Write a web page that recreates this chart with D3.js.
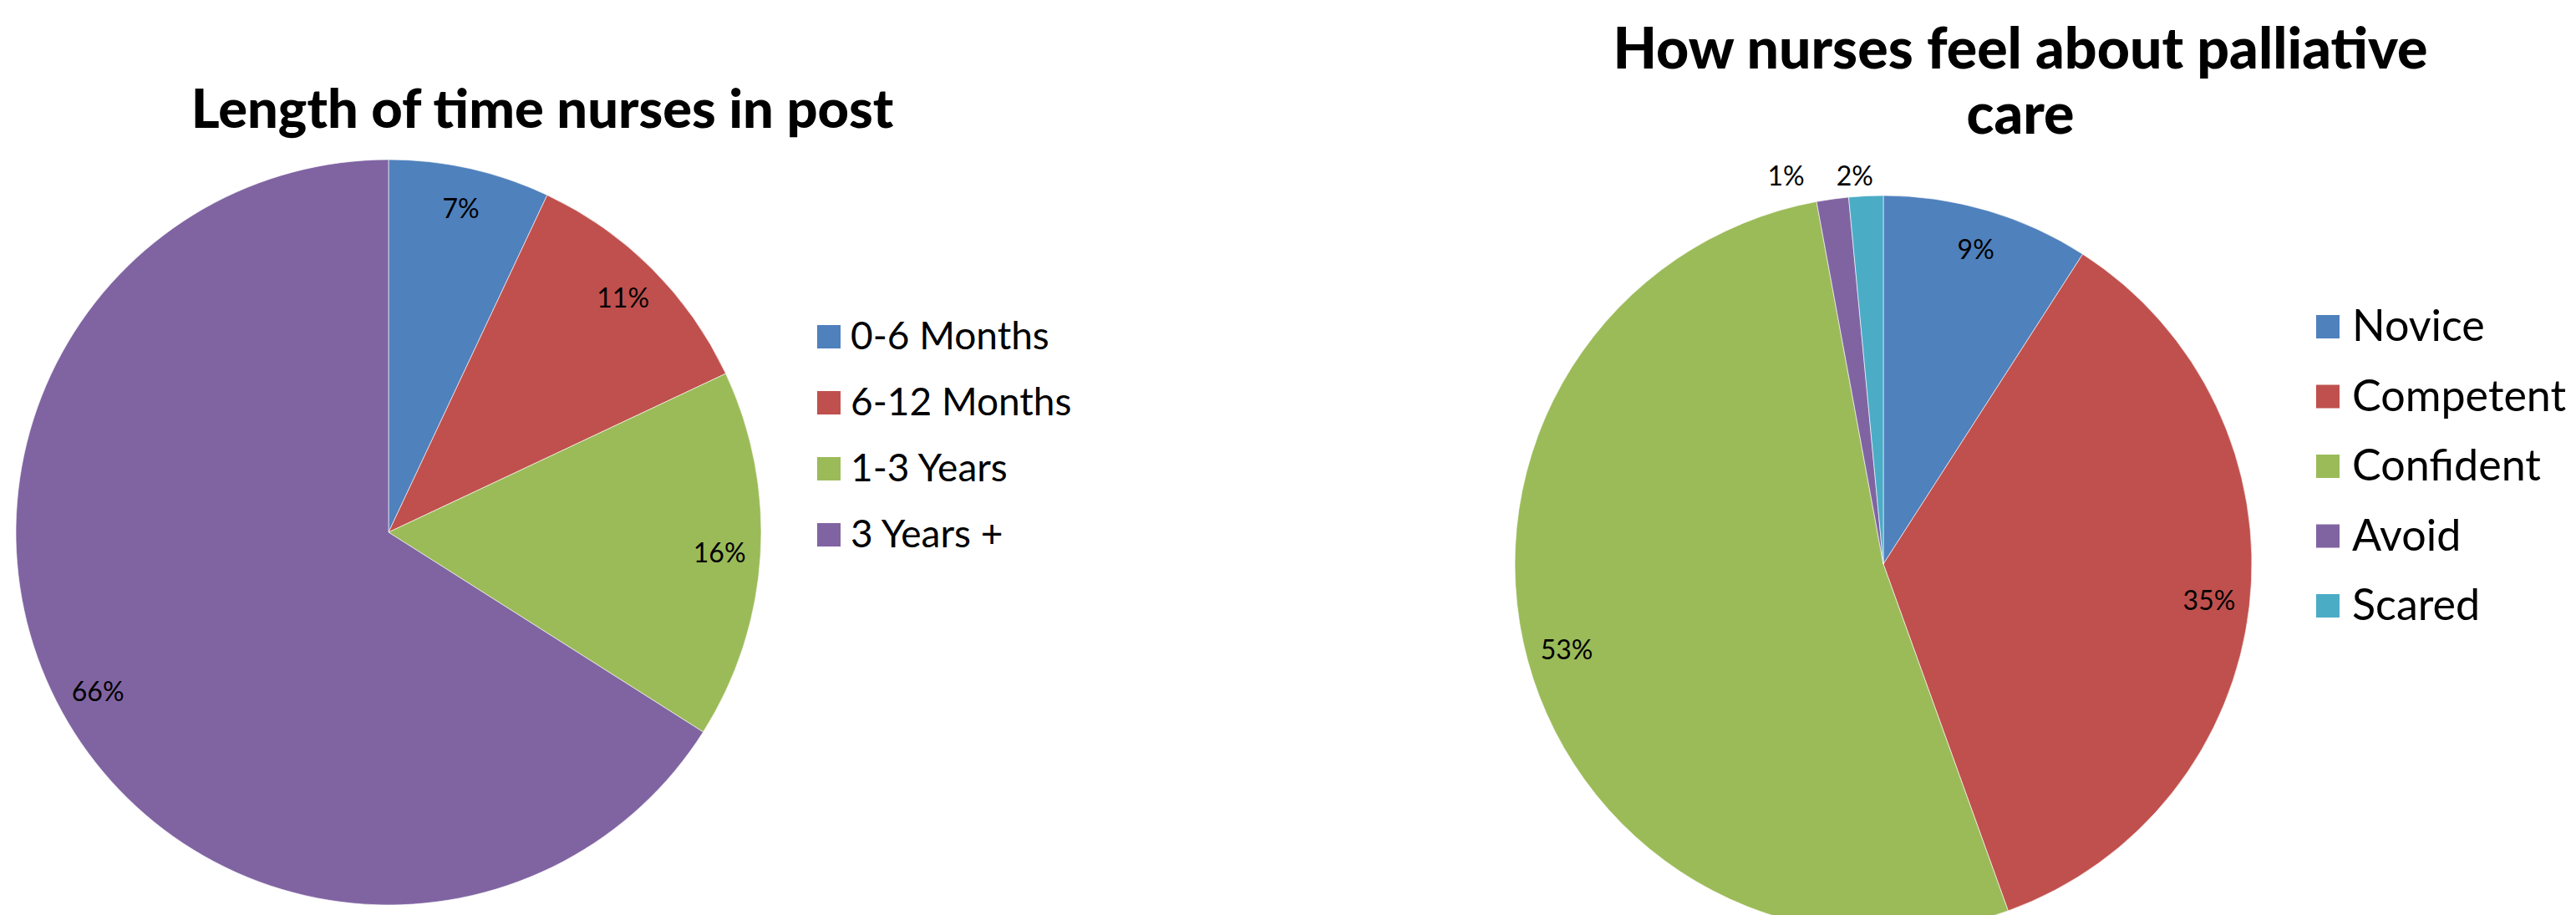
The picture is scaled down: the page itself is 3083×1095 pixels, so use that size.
<!DOCTYPE html>
<html>
<head>
<meta charset="utf-8">
<script src="https://cdn.jsdelivr.net/npm/d3@7"></script>
<style>
  html, body { margin: 0; padding: 0; background: #fff; }
  svg { display: block; }
  text { font-family: Lato, "Noto Sans", sans-serif; fill: #000; }
  .title { font-weight: 900; }
</style>
</head>
<body>
<div id="chart"></div>
<script>
// chart 1: length of time in post
const postCategories = ['0-6 Months', '6-12 Months', '1-3 Years', '3 Years +']
const postValues = [7, 11, 16, 66]

// chart 2: feelings about palliative care
const feelCategories = ['Novice', 'Competent', 'Confident', 'Avoid', 'Scared']
const feelValues = [9.1, 35.4, 52.6, 1.4, 1.5]

const colors = ['#4F81BD', '#C0504D', '#9BBB59', '#8064A2', '#4BACC6']

const W = 3083, H = 1095

const svg = d3.select('#chart').append('svg')
	.attr('width', W)
	.attr('height', H)

function draw_pie(opt) {
	const g = svg.append('g')
	const total = d3.sum(opt.values)
	const data = opt.values.map((v, i) => ({name: opt.categories[i], value: v, i: i}))
	const pie = d3.pie().sort(null).value(d => d.value)
	const arcs = pie(data)
	const arc = d3.arc().innerRadius(0).outerRadius(opt.r)
	const labelArc = d3.arc().innerRadius(opt.r * 0.89).outerRadius(opt.r * 0.89)

	const pg = g.append('g').attr('transform', 'translate(' + [opt.cx, opt.cy] + ')')
	pg.selectAll('path')
		.data(arcs)
		.enter().append('path')
		.attr('d', arc)
		.attr('fill', d => colors[d.data.i])
		.attr('stroke', '#fff')
		.attr('stroke-opacity', 0.6)
		.attr('stroke-width', 1)

	// inside labels for the big slices
	const pct = d => Math.round(d.data.value / total * 100) + '%'
	pg.selectAll('text.inside')
		.data(arcs.filter(d => d.data.value / total >= 0.05))
		.enter().append('text')
		.attr('class', 'inside')
		.attr('text-anchor', 'middle')
		.attr('dy', '0.35em')
		.style('font-size', opt.labelSize + 'px')
		.attr('transform', d => 'translate(' + labelArc.centroid(d) + ')')
		.text(pct)

	// small slices get labels above the rim, pushed apart right to left
	const small = arcs.filter(d => d.data.value / total < 0.05).reverse()
	let prevLeft = Infinity
	small.forEach(d => {
		let xEnd = opt.r * Math.sin(d.endAngle) - 12
		if (xEnd > prevLeft - 38) xEnd = prevLeft - 38
		const t = pg.append('text')
			.attr('text-anchor', 'end')
			.attr('x', xEnd)
			.attr('y', -opt.r - 12)
			.style('font-size', opt.labelSize + 'px')
			.text(pct(d))
		prevLeft = xEnd - t.node().getComputedTextLength()
	})

	// title
	const tt = g.append('text')
		.attr('class', 'title')
		.attr('text-anchor', 'middle')
		.style('font-size', opt.titleSize + 'px')
	opt.title.forEach((line, i) => {
		tt.append('tspan')
			.attr('x', opt.titleX)
			.attr('y', opt.titleY + i * opt.titleLine)
			.text(line)
	})

	// legend
	const lg = g.append('g').attr('transform', 'translate(' + [opt.legendX, opt.legendY] + ')')
	const rows = lg.selectAll('g')
		.data(data)
		.enter().append('g')
		.attr('transform', (d, i) => 'translate(0,' + i * opt.legendStep + ')')
	rows.append('rect')
		.attr('y', -opt.boxTop)
		.attr('width', 28)
		.attr('height', 28)
		.attr('fill', d => colors[d.i])
	rows.append('text')
		.attr('x', opt.textGap)
		.style('font-size', opt.legendSize + 'px')
		.text(d => d.name)
}

draw_pie({
	categories: postCategories, values: postValues,
	cx: 465, cy: 637, r: 446,
	labelSize: 32,
	title: ['Length of time nurses in post'], titleX: 649, titleY: 153, titleLine: 0, titleSize: 65,
	legendX: 978, legendY: 418, legendStep: 79, boxTop: 29, textGap: 40, legendSize: 46
})

draw_pie({
	categories: feelCategories, values: feelValues,
	cx: 2254, cy: 675, r: 441,
	labelSize: 32,
	title: ['How nurses feel about palliative', 'care'], titleX: 2418, titleY: 82, titleLine: 78, titleSize: 68,
	legendX: 2772, legendY: 408, legendStep: 83.5, boxTop: 31, textGap: 43, legendSize: 52
})
</script>
</body>
</html>
